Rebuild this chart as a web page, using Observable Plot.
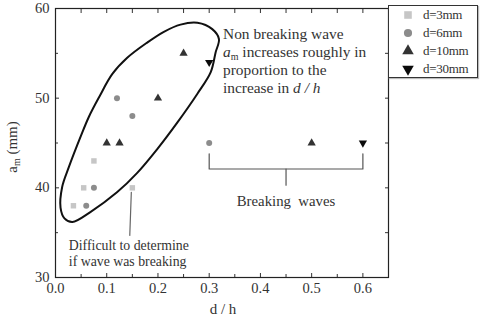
<!DOCTYPE html>
<html>
<head>
<meta charset="utf-8">
<script src="https://cdn.jsdelivr.net/npm/d3@7"></script>
<script src="https://cdn.jsdelivr.net/npm/@observablehq/plot@0.6"></script>
<style>
  html, body { margin: 0; padding: 0; background: #fff; }
  #wrap { position: relative; width: 486px; height: 327px; font-family: "Liberation Serif", "DejaVu Serif", serif; }
  #legend { position: absolute; left: 388px; top: 5px; width: 88px; height: 71px; border: 1.5px solid #333; background: #fff; box-shadow: 1px 1px 1px #bbb; }
  .lg-row { position: absolute; left: 0; height: 16px; display: flex; align-items: center; font-size: 13px; color: #333; letter-spacing: -0.3px; }
  .lg-row svg { width: 20px; height: 14px; margin-left: 9px; margin-right: 5px; }
</style>
</head>
<body>
<div id="wrap"></div>
<script>
// ---- data ----
const seriesNames = ["d=3mm", "d=6mm", "d=10mm", "d=30mm"];
const d3mmX = [0.035, 0.055, 0.075, 0.15];
const d3mmY = [38, 40, 43, 40];
const d6mmX = [0.06, 0.075, 0.12, 0.15, 0.3];
const d6mmY = [38, 40, 50, 48, 45];
const d10mmX = [0.1, 0.125, 0.2, 0.25, 0.5];
const d10mmY = [45, 45, 50, 55, 45];
const d30mmX = [0.3, 0.6];
const d30mmY = [54, 45];

// annotation outline (closed loop around non-breaking points), data units
const loopX = [0.0098, 0.013, 0.026, 0.049, 0.065, 0.085, 0.111, 0.14, 0.179, 0.2115, 0.244, 0.277, 0.306, 0.319, 0.3125, 0.303, 0.277, 0.238, 0.199, 0.16, 0.12, 0.068, 0.033, 0.0175];
const loopY = [37.8, 40.1, 42.3, 45.7, 47.9, 50.1, 52.7, 54.5, 56.2, 57.4, 58.2, 58.4, 57.7, 56.6, 55.1, 52.9, 50.5, 47.3, 44.35, 41.7, 39.5, 37.3, 36.2, 36.6];

// breaking-wave bracket
const bracketX = [0.3, 0.3, 0.6, 0.6];
const bracketY = [43.8, 42.1, 42.1, 43.8];
const bracketMidX = 0.45;
const bracketMidY = [42.1, 40.3];

// "difficult" pointer
const pointerX = [0.148, 0.145];
const pointerY = [39.5, 34.7];

// texts
const noteLines = ["Non breaking wave", "§a§m increases roughly in", "proportion to the", "increase in ¶d / h¶"];
const noteX = 0.327;
const noteY = [57.2, 55.1, 53.1, 51.1];
const diffLines = ["Difficult to determine", "if wave was breaking"];
const diffX = 0.026;
const diffY = [33.6, 31.8];
const breakLabel = "Breaking  waves";
const breakLabelY = 38.55;

const xMajor = [0, 0.1, 0.2, 0.3, 0.4, 0.5, 0.6];
const xMinor = [0.05, 0.15, 0.25, 0.35, 0.45, 0.55, 0.65];
const yMajor = [30, 40, 50, 60];
const yMinor = [35, 45, 55];

// ---- build ----
const colors = {"d=3mm": "#c6c6c6", "d=6mm": "#8c8c8c", "d=10mm": "#333", "d=30mm": "#0a0a0a"};
const downTriangle = {
  draw(ctx, size) {
    const y = -Math.sqrt(size / (Math.sqrt(3) * 3));
    ctx.moveTo(0, -y * 2);
    ctx.lineTo(-Math.sqrt(3) * y, y);
    ctx.lineTo(Math.sqrt(3) * y, y);
    ctx.closePath();
  }
};
const symbols = {"d=3mm": "square", "d=6mm": "circle", "d=10mm": "triangle", "d=30mm": downTriangle};
const sizes = {"d=3mm": 4.5, "d=6mm": 4.3, "d=10mm": 4.5, "d=30mm": 4.5};

const pts = [];
[[d3mmX, d3mmY], [d6mmX, d6mmY], [d10mmX, d10mmY], [d30mmX, d30mmY]].forEach(([xs, ys], i) => {
  xs.forEach((x, j) => pts.push({x, y: ys[j], s: seriesNames[i]}));
});
const loop = loopX.map((x, i) => ({x, y: loopY[i]}));
const bracket = bracketX.map((x, i) => ({x, y: bracketY[i]}));

const font = "Liberation Serif";
const plot = Plot.plot({
  width: 486,
  height: 327,
  marginLeft: 55,
  marginRight: 98,
  marginTop: 8,
  marginBottom: 50,
  style: {fontFamily: font, fontSize: "14.5px", color: "#333", background: "white"},
  x: {domain: [0, 0.65]},
  y: {domain: [30, 60]},
  marks: [
    Plot.axisX({anchor: "bottom", ticks: xMajor, tickSize: -4, tickPadding: 9, tickFormat: d3.format(".1f"), label: null, fontSize: 14.5}),
    Plot.axisX({anchor: "bottom", ticks: xMinor, tickSize: -3, tickFormat: () => "", label: null}),
    Plot.axisX({anchor: "top", ticks: xMajor.concat(xMinor), tickSize: -4, tickFormat: () => "", label: null}),
    Plot.axisY({anchor: "left", ticks: yMajor, tickSize: -4, tickPadding: 10, label: null, fontSize: 14.5}),
    Plot.axisY({anchor: "left", ticks: yMinor, tickSize: -3, tickFormat: () => "", label: null}),
    Plot.axisY({anchor: "right", ticks: yMajor.concat(yMinor), tickSize: -4, tickFormat: () => "", label: null}),
    Plot.frame({stroke: "#222", strokeWidth: 1.2}),
    Plot.line(loop, {x: "x", y: "y", curve: "catmull-rom-closed", stroke: "#111", strokeWidth: 2}),
    Plot.line(bracket, {x: "x", y: "y", stroke: "#555", strokeWidth: 1.2}),
    Plot.line(bracketMidY.map(y => ({x: bracketMidX, y})), {x: "x", y: "y", stroke: "#555", strokeWidth: 1.2}),
    Plot.line(pointerX.map((x, i) => ({x, y: pointerY[i]})), {x: "x", y: "y", stroke: "#666", strokeWidth: 1.2}),
    Plot.dot(pts, {x: "x", y: "y", symbol: d => symbols[d.s], r: d => sizes[d.s], fill: d => colors[d.s], stroke: "none"}),
    Plot.text(noteLines.map((t, i) => ({t, y: noteY[i]})), {x: () => noteX, y: "y", text: "t", textAnchor: "start", fontSize: 15.4, fill: "#333"}),
    Plot.text(diffLines.map((t, i) => ({t, y: diffY[i]})), {x: () => diffX, y: "y", text: "t", textAnchor: "start", fontSize: 13.8, fill: "#333"}),
    Plot.text([breakLabel], {x: () => bracketMidX, y: () => breakLabelY, text: d => d, fontSize: 14.8, fill: "#333"}),
    Plot.text(["d / h"], {frameAnchor: "bottom", dx: 1, dy: 36, text: d => d, fontSize: 15, fill: "#333"})
  ]
});
plot.setAttribute("font-family", font);
const wrap = document.getElementById("wrap");
wrap.appendChild(plot);

// rich text: italic / subscripts
d3.select(plot).selectAll("text").each(function () {
  const t = this.textContent;
  if (t.includes("§") || t.includes("¶")) {
    let html = t
      .replace(/§a§m/g, '<tspan font-style="italic">a</tspan><tspan font-size="10" dy="3">m</tspan><tspan dy="-3">')
      .replace(/¶([^¶]*)¶/g, '<tspan font-style="italic">$1</tspan>');
    if (t.includes("§")) html += "</tspan>";
    this.innerHTML = html;
  }
});

// y axis label a_m (mm)
d3.select(plot).append("text")
  .attr("transform", "translate(17,147) rotate(-90)")
  .attr("text-anchor", "middle")
  .attr("font-size", 15)
  .attr("fill", "#333")
  .html('a<tspan font-size="10" dy="3">m</tspan><tspan dy="-3"> (mm)</tspan>');

// legend
const legend = document.createElement("div");
legend.id = "legend";
seriesNames.forEach((name, i) => {
  const row = document.createElement("div");
  row.className = "lg-row";
  row.style.top = (0.5 + i * 18) + "px";
  const sym = typeof symbols[name] === "string" ? {square: d3.symbolSquare, circle: d3.symbolCircle, triangle: d3.symbolTriangle}[symbols[name]] : downTriangle;
  const r = sizes[name] * 0.95;
  const path = d3.symbol(sym, Math.PI * r * r)();
  row.innerHTML = `<svg viewBox="-10 -7 20 14"><path d="${path}" fill="${colors[name]}"/></svg><span>${name}</span>`;
  legend.appendChild(row);
});
wrap.appendChild(legend);
</script>
</body>
</html>
